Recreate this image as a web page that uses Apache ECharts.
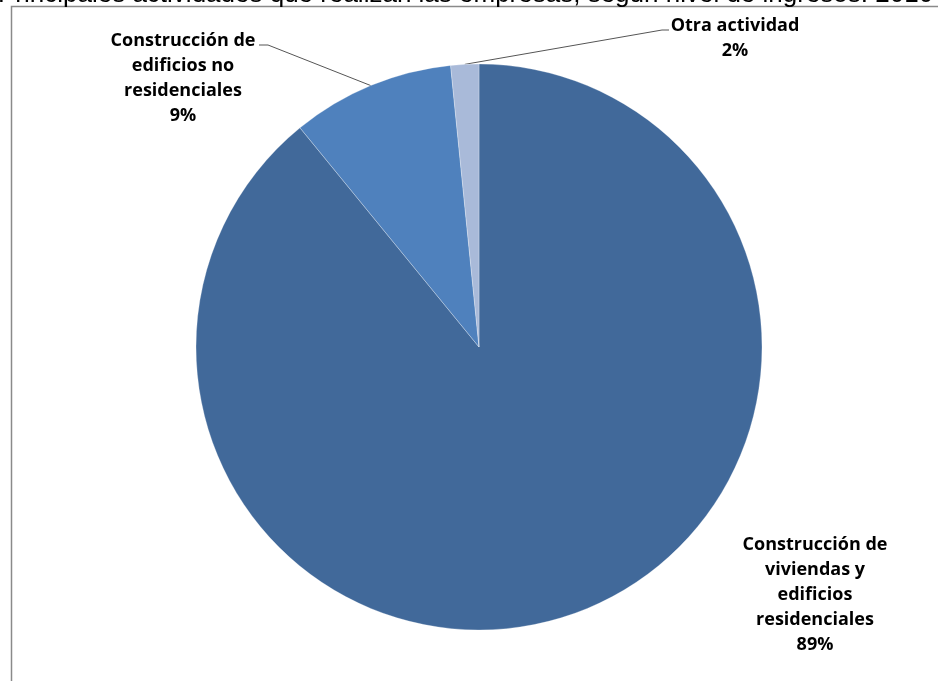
<!DOCTYPE html>
<html>
<head>
<meta charset="utf-8">
<script src="https://cdn.jsdelivr.net/npm/echarts@6/dist/echarts.min.js"></script>
<style>html,body{margin:0;padding:0;background:#fff;}#c{width:938px;height:681px;}</style>
</head>
<body>
<div id="c"></div>
<script>
var titleText = 'Principales actividades que realizan las empresas, según nivel de ingresos: 2010';
var categories = ['Construcción de\nviviendas y\nedificios\nresidenciales', 'Construcción de\nedificios no\nresidenciales', 'Otra actividad'];
var values = [89.1, 9.3, 1.6];
var colors = ['#41699A', '#4F81BD', '#A9BAD9'];

var chart = echarts.init(document.getElementById('c'));
// label box anchors (center x, top y) and the points where leader lines meet the label
var labelPos = [
  {x: 815, y: 532, end: null},
  {x: 183, y: 28, end: [[268, 45], [259, 45]]},
  {x: 735, y: 13, end: [[662, 30], [669, 30]]}
];
var data = categories.map(function (c, i) {
  return {
    name: c,
    value: values[i],
    itemStyle: {color: colors[i]},
    labelLine: {show: i !== 0}
  };
});
chart.setOption({
  animation: false,
  graphic: [
    {type: 'rect', shape: {x: 11.5, y: 6.5, width: 1000, height: 1000}, style: {fill: 'none', stroke: '#8A8A8A', lineWidth: 1.5}, z: -10},
    {type: 'text', z: -5, style: {text: titleText, x: -2, y: -5, font: '26px "Liberation Sans", Arial, sans-serif', fill: '#000', verticalAlign: 'middle'}}
  ],
  series: [{
    type: 'pie',
    center: [479, 347],
    radius: 283,
    startAngle: 90,
    clockwise: true,
    data: data,
    itemStyle: {borderColor: 'rgba(255,255,255,0.35)', borderWidth: 0.8},
    label: {
      show: true,
      formatter: function (p) { return p.name + '\n' + Math.round(p.value) + '%'; },
      fontFamily: '"Open Sans", Lato, sans-serif',
      fontWeight: 'bold',
      fontSize: 18,
      lineHeight: 25,
      color: '#000',
      align: 'center'
    },
    labelLine: {show: true, lineStyle: {color: '#555', width: 1}, length: 20, length2: 10},
    labelLayout: function (p) {
      var pos = labelPos[p.dataIndex];
      var res = {x: pos.x, y: pos.y, align: 'center', verticalAlign: 'top'};
      if (pos.end && p.labelLinePoints) {
        res.labelLinePoints = [p.labelLinePoints[0], pos.end[0], pos.end[1]];
      }
      return res;
    }
  }]
});
</script>
</body>
</html>
